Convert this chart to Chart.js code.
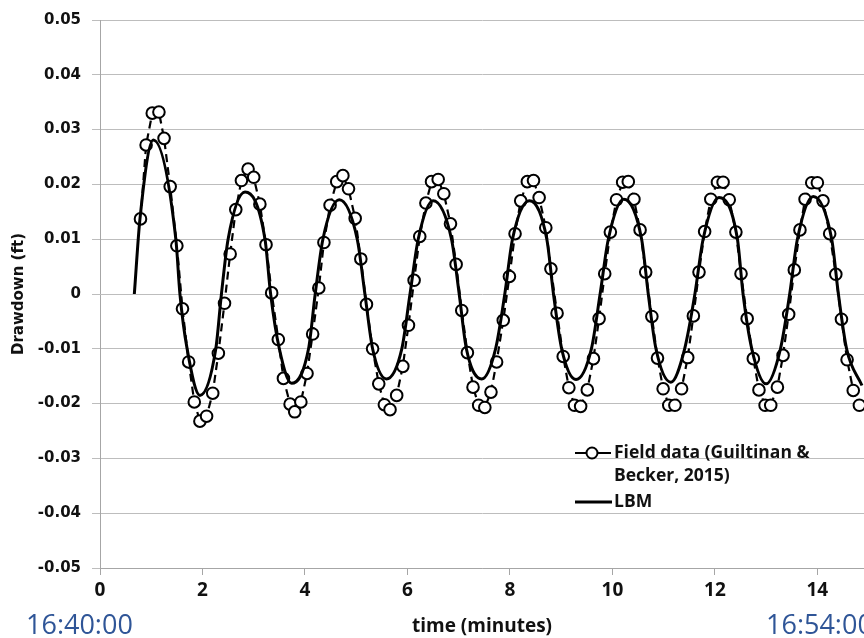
<!DOCTYPE html>
<html><head><meta charset="utf-8">
<script src="https://cdn.jsdelivr.net/npm/chart.js@4.4.1/dist/chart.umd.min.js"></script>
<style>html,body{margin:0;padding:0;background:#fff;overflow:hidden}#wrap{position:relative;width:864px;height:638px}</style>
</head><body><div id="wrap"><canvas id="c" width="864" height="638"></canvas></div>
<script>
// ---- data ----
const fieldTime = [0.79,0.90,1.02,1.15,1.25,1.37,1.50,1.61,1.73,1.84,1.95,2.08,2.20,2.31,2.43,2.54,2.65,2.76,2.89,3.00,3.12,3.24,3.35,3.48,3.58,3.71,3.80,3.92,4.04,4.15,4.27,4.37,4.49,4.62,4.74,4.85,4.98,5.09,5.20,5.32,5.44,5.55,5.66,5.79,5.91,6.02,6.13,6.24,6.36,6.47,6.60,6.71,6.84,6.95,7.06,7.17,7.28,7.39,7.51,7.63,7.74,7.87,7.99,8.10,8.21,8.34,8.46,8.57,8.70,8.80,8.92,9.04,9.15,9.26,9.38,9.51,9.63,9.74,9.85,9.96,10.08,10.20,10.31,10.42,10.54,10.65,10.77,10.88,10.99,11.10,11.22,11.35,11.47,11.58,11.69,11.80,11.92,12.05,12.16,12.28,12.41,12.51,12.63,12.75,12.86,12.98,13.09,13.22,13.33,13.44,13.55,13.66,13.76,13.89,14.00,14.11,14.24,14.36,14.47,14.58,14.70,14.82];
const fieldDrawdown = [0.0137,0.0272,0.0330,0.0332,0.0284,0.0196,0.0088,-0.0027,-0.0124,-0.0197,-0.0232,-0.0223,-0.0181,-0.0108,-0.0017,0.0073,0.0154,0.0207,0.0228,0.0213,0.0164,0.0090,0.0002,-0.0083,-0.0154,-0.0201,-0.0215,-0.0197,-0.0145,-0.0073,0.0011,0.0094,0.0162,0.0205,0.0216,0.0192,0.0138,0.0064,-0.0019,-0.0100,-0.0164,-0.0202,-0.0211,-0.0185,-0.0132,-0.0057,0.0025,0.0105,0.0166,0.0205,0.0209,0.0183,0.0128,0.0054,-0.0030,-0.0107,-0.0170,-0.0203,-0.0207,-0.0179,-0.0124,-0.0048,0.0032,0.0110,0.0170,0.0205,0.0207,0.0176,0.0121,0.0046,-0.0035,-0.0114,-0.0171,-0.0203,-0.0205,-0.0175,-0.0118,-0.0045,0.0037,0.0113,0.0172,0.0204,0.0205,0.0173,0.0117,0.0040,-0.0041,-0.0117,-0.0173,-0.0203,-0.0203,-0.0173,-0.0116,-0.0040,0.0040,0.0114,0.0173,0.0204,0.0204,0.0172,0.0113,0.0037,-0.0045,-0.0118,-0.0175,-0.0203,-0.0203,-0.0170,-0.0112,-0.0037,0.0044,0.0117,0.0173,0.0203,0.0203,0.0170,0.0110,0.0036,-0.0046,-0.0120,-0.0176,-0.0203];
const lbmTime = [0.67,0.78,1.04,1.48,1.56,1.70,1.95,2.26,2.37,2.50,2.83,3.22,3.33,3.50,3.74,4.07,4.20,4.35,4.67,5.02,5.17,5.32,5.59,5.89,6.05,6.21,6.50,6.86,7.01,7.15,7.45,7.72,7.90,8.05,8.38,8.72,8.85,9.01,9.29,9.59,9.76,9.92,10.22,10.57,10.70,10.85,11.14,11.41,11.61,11.77,12.08,12.44,12.55,12.72,13.00,13.28,13.46,13.61,13.92,14.28,14.41,14.57,14.87];
const lbmDrawdown = [0,0.0137,0.0281,0.01,0,-0.01,-0.0185,-0.01,0,0.01,0.0186,0.01,0,-0.01,-0.0163,-0.01,0,0.01,0.0172,0.01,0,-0.01,-0.0155,-0.01,0,0.01,0.0170,0.01,0,-0.01,-0.0155,-0.01,0,0.01,0.0170,0.01,0,-0.01,-0.0156,-0.01,0,0.01,0.0173,0.01,0,-0.01,-0.0161,-0.01,0,0.01,0.0176,0.01,0,-0.01,-0.0164,-0.01,0,0.01,0.0178,0.01,0,-0.01,-0.0167];
const xTicks = [0,2,4,6,8,10,12,14];
const yTicks = [-0.05,-0.04,-0.03,-0.02,-0.01,0,0.01,0.02,0.03,0.04,0.05];
const xVisibleMax = 14.91;
const clockLabels = ['16:40:00','16:54:00'];
const seriesNames = ['Field data (Guiltinan & Becker, 2015)','LBM'];
const legendLines = [['Field data (Guiltinan &','Becker, 2015)'],['LBM']];
const axisTitles = {x:'time (minutes)', y:'Drawdown (ft)'};

const toXY = (xs, ys) => xs.map((x,i)=>({x, y: ys[i]}));
const fmt = v => String(Math.round(v*100)/100);

const extras = {
  id: 'extras',
  afterDraw(chart) {
    const ctx = chart.ctx, a = chart.chartArea;
    ctx.save();
    // legend inside plot
    const lx = a.left + 475, ly = a.top + 433;
    ctx.strokeStyle = '#000';
    ctx.lineWidth = 2; ctx.setLineDash([]);
    ctx.beginPath(); ctx.moveTo(lx, ly); ctx.lineTo(lx+36, ly); ctx.stroke();
    ctx.beginPath(); ctx.arc(lx+17, ly, 5.5, 0, Math.PI*2); ctx.fillStyle='#fff'; ctx.fill(); ctx.stroke();
    ctx.lineWidth = 3;
    ctx.beginPath(); ctx.moveTo(lx, ly+49); ctx.lineTo(lx+37, ly+49); ctx.stroke();
    ctx.fillStyle = '#111';
    ctx.font = 'bold 17.5px "Open Sans"';
    ctx.textBaseline = 'middle'; ctx.textAlign = 'left';
    ctx.fillText(legendLines[0][0], lx+39, ly);
    ctx.fillText(legendLines[0][1], lx+39, ly+23);
    ctx.fillText(legendLines[1][0], lx+39, ly+49);
    // clock labels
    ctx.fillStyle = '#2f5597';
    ctx.font = '27px "Open Sans"';
    ctx.textBaseline = 'alphabetic';
    ctx.fillText(clockLabels[0], 26, 634);
    ctx.fillText(clockLabels[1], 766, 634);
    ctx.restore();
  }
};

function build(){
  new Chart(document.getElementById('c'), {
    type: 'line',
    data: {
      datasets: [
        { label: seriesNames[1], data: toXY(lbmTime, lbmDrawdown), order: 0,
          borderColor: '#000', borderWidth: 3, pointRadius: 0,
          cubicInterpolationMode: 'monotone', fill: false },
        { label: seriesNames[0], data: toXY(fieldTime, fieldDrawdown), order: 1,
          borderColor: '#000', borderWidth: 2.2, borderDash: [8,5], tension: 0,
          pointRadius: 5.8, pointBorderWidth: 2, pointBackgroundColor: '#fff',
          pointBorderColor: '#000', fill: false }
      ]
    },
    options: {
      responsive: false, animation: false, devicePixelRatio: 1,
      layout: { autoPadding: false, padding: { top: 19, right: 0, left: 0, bottom: 0 } },
      plugins: { legend: { display: false }, tooltip: { enabled: false } },
      events: [],
      scales: {
        x: {
          type: 'linear', min: 0, max: xVisibleMax,
          afterBuildTicks: s => { s.ticks = xTicks.map(v => ({value: v})); },
          afterFit: s => { s.height = 70; s.paddingRight = 0; s.paddingLeft = 0; },
          grid: { drawOnChartArea: false, drawTicks: true, tickLength: 7, color: '#a6a6a6', lineWidth: 1 },
          border: { display: true, color: '#a6a6a6', width: 1 },
          ticks: { color: '#111', font: { family: 'Open Sans', weight: 'bold', size: 19 }, padding: 4, maxRotation: 0, autoSkip: false },
          title: { display: true, text: axisTitles.x, color: '#111', font: { family: 'Open Sans', weight: 'bold', size: 19 }, padding: { top: 0, bottom: 0 } }
        },
        y: {
          type: 'linear', min: -0.05, max: 0.05,
          afterBuildTicks: s => { s.ticks = yTicks.map(v => ({value: v})); },
          afterFit: s => { s.width = 100; },
          grid: { color: '#bdbdbd', lineWidth: 1, tickLength: 8, drawTicks: true },
          border: { display: true, color: '#a6a6a6', width: 1 },
          ticks: { color: '#111', font: { family: 'DejaVu Sans', weight: 'bold', size: 15 }, padding: 11, callback: v => fmt(v), autoSkip: false },
          title: { display: true, text: axisTitles.y, color: '#111', font: { family: 'DejaVu Sans', weight: 'bold', size: 15 }, padding: { top: 10, bottom: 0 } }
        }
      }
    },
    plugins: [extras]
  });
}
Promise.all([
  document.fonts.load('bold 19px "Open Sans"'),
  document.fonts.load('27px "Open Sans"'),
  document.fonts.load('bold 15px "DejaVu Sans"')
]).then(build, build);
</script></body></html>
